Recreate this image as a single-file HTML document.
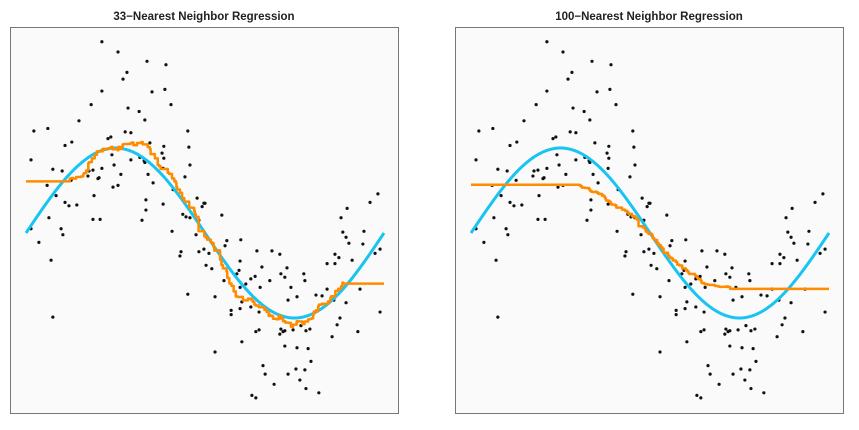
<!DOCTYPE html>
<html><head><meta charset="utf-8"><style>
html,body{margin:0;padding:0;background:#fff;}
svg{display:block;font-family:"Liberation Sans",sans-serif;}
</style></head><body>
<svg id="chart" width="859" height="430"></svg>
<script>
// observations: x (0..100), y
const obsX = [21.2,25.7,33.8,39.1,28.2,27.1,38.8,21.2,35.2,18.2,28.5,31.6,40.5,33.2,14.8,2.2,6.1,45.2,22.9,23.7,27.7,29.3,10.9,12.8,34.6,38.5,45.5,1.4,24.0,29.3,31.8,33.0,33.2,38.0,38.5,45.8,7.5,10.1,17.6,18.7,21.2,24.6,17.3,20.4,20.1,26.5,34.1,38.3,44.4,5.9,35.5,24.3,25.7,12.6,8.4,19.0,10.9,12.0,14.2,33.5,38.3,47.8,49.7,49.2,33.5,41.1,6.4,18.7,20.7,32.4,43.8,44.7,45.8,48.3,50.0,54.7,88.0,89.7,96.1,98.3,1.4,9.8,10.3,3.6,7.0,7.5,40.8,43.3,43.0,45.2,47.5,48.3,49.7,51.1,50.3,48.0,88.5,94.4,89.4,90.2,94.1,56.1,60.0,55.6,64.5,68.7,70.9,86.3,87.4,98.9,97.5,91.1,84.1,86.3,51.9,59.8,59.5,65.9,72.9,58.9,71.2,72.3,64.0,62.8,77.6,77.9,68.1,55.3,61.4,59.8,65.4,74.0,84.1,93.3,81.0,82.7,52.8,75.7,73.2,86.0,60.3,89.4,59.8,57.3,57.3,62.8,65.1,98.9,87.7,86.9,71.2,71.8,70.9,72.3,74.6,76.8,78.2,79.3,64.2,65.1,92.7,85.5,60.3,52.8,72.3,75.7,78.8,66.2,79.6,66.8,73.2,75.4,77.9,76.5,69.3,78.2,81.8,63.1,64.2];
const obsY = [2.25,2.13,2.02,1.98,1.89,1.81,1.69,1.67,1.66,1.51,1.47,1.43,1.51,1.33,1.32,1.20,1.23,1.20,1.11,1.13,1.19,1.18,1.03,1.07,1.06,1.02,1.01,0.86,0.92,0.86,0.89,0.85,0.83,0.94,0.88,0.80,0.75,0.73,0.73,0.74,0.76,0.80,0.67,0.65,0.64,0.69,0.69,0.76,0.66,0.56,0.59,0.54,0.56,0.62,0.44,0.44,0.36,0.32,0.33,0.39,0.34,0.41,0.35,0.31,0.27,0.51,0.18,0.16,0.16,0.15,0.22,0.19,0.18,0.15,0.35,0.21,0.18,0.29,0.36,0.46,0.05,0.05,-0.02,-0.11,-0.32,-0.99,0.02,-0.22,-0.27,-0.72,-0.02,-0.22,-0.19,-0.24,-0.38,0.14,0.01,0.02,-0.05,-0.12,-0.13,-0.09,-0.08,-0.15,-0.21,-0.21,-0.25,-0.25,-0.29,-0.19,-0.24,-0.32,-0.36,-0.36,-0.42,-0.33,-0.44,-0.40,-0.41,-0.48,-0.48,-0.52,-0.51,-0.54,-0.48,-0.56,-0.56,-0.56,-0.60,-0.64,-0.64,-0.64,-0.66,-0.66,-0.73,-0.74,-0.75,-0.75,-0.79,-0.79,-0.81,-0.82,-0.89,-0.91,-0.96,-0.87,-0.93,-0.93,-1.00,-1.08,-1.13,-1.16,-1.19,-1.15,-1.14,-1.09,-1.15,-1.13,-1.16,-1.14,-1.16,-1.22,-1.28,-1.40,-1.33,-1.35,-1.36,-1.56,-1.51,-1.66,-1.66,-1.60,-1.61,-1.73,-1.78,-1.83,-1.88,-1.91,-1.94];
const panelK = [33, 100];
const panelTitles = ["33\u2212Nearest Neighbor Regression","100\u2212Nearest Neighbor Regression"];

const NS="http://www.w3.org/2000/svg";
const svg=document.getElementById('chart');
function mk(tag,attrs,parent){const e=document.createElementNS(NS,tag);for(const k in attrs)e.setAttribute(k,attrs[k]);(parent||svg).appendChild(e);return e;}
function knn(x0,k){
  const d=obsX.map((x,i)=>[Math.abs(x-x0),obsY[i]]).sort((a,b)=>a[0]-b[0]);
  let s=0;for(let i=0;i<k&&i<d.length;i++)s+=d[i][1];return s/Math.min(k,d.length);
}
panelK.forEach((k,p)=>{
  const off=p*445;
  const sx=v=>26+off+v*3.58;
  const sy=v=>233-v*85;
  const g=mk('g',{});
  
  
  const box=mk('rect',{x:10.5+off,y:27.5,width:388,height:386,fill:'#fafafa',stroke:'#777','stroke-width':1},g);
  
  
  const t=mk('text',{x:204+off,y:20,'text-anchor':'middle','font-size':'11.5','font-weight':'bold',fill:'#222'},g);
  t.textContent=panelTitles[p];
  
  
  const pts=mk('g',{},g);
  
  
  obsX.forEach((x,i)=>{
    const c=mk('circle',{cx:sx(x),cy:sy(obsY[i]),r:1.6,fill:'#111'},pts);
    
    
  });
  let d='';
  for(let i=0;i<=400;i++){const x=i/4;d+=(i?'L':'M')+sx(x).toFixed(2)+' '+sy(Math.sin(2*Math.PI*x/100)).toFixed(2);}
  const tr=mk('path',{d:d,fill:'none',stroke:'#18c4f2','stroke-width':3},g);
  
  
  let d2='';let prev=null;
  for(let i=0;i<=500;i++){const x=i/5;const v=knn(x,k);
    if(prev===null)d2+='M'+sx(x).toFixed(2)+' '+sy(v).toFixed(2);
    else d2+='L'+sx(x).toFixed(2)+' '+sy(prev).toFixed(2)+'L'+sx(x).toFixed(2)+' '+sy(v).toFixed(2);
    prev=v;}
  const fit=mk('path',{d:d2,fill:'none',stroke:'#ff8c00','stroke-width':2.5,'stroke-linejoin':'round'},g);
  
  
});
</script>
</body></html>
